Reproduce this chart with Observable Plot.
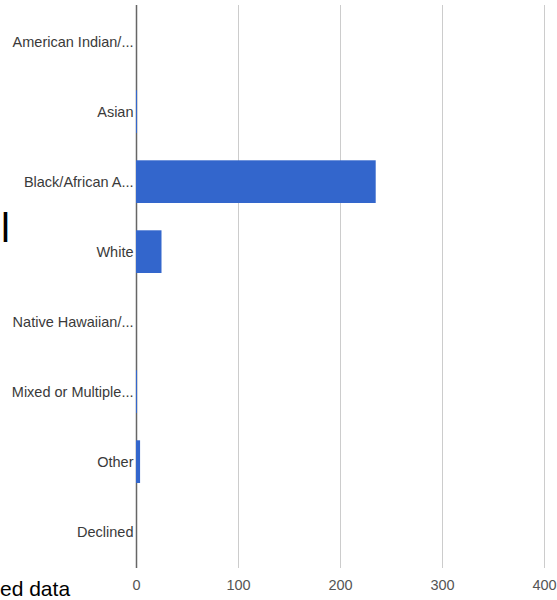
<!DOCTYPE html>
<html>
<head>
<meta charset="utf-8">
<script src="https://cdn.jsdelivr.net/npm/d3@7"></script>
<script src="https://cdn.jsdelivr.net/npm/@observablehq/plot@0.6"></script>
<style>
  html, body { margin: 0; padding: 0; background: #fff; }
  #wrap { position: relative; width: 557px; height: 600px; overflow: hidden; font-family: "Liberation Sans", Arial, sans-serif; }
  .frag { position: absolute; color: #000; font-family: "Liberation Sans", Arial, sans-serif; line-height: 1; white-space: nowrap; }
</style>
</head>
<body>
<div id="wrap"></div>
<script>
const categories = ["American Indian/...", "Asian", "Black/African A...", "White", "Native Hawaiian/...", "Mixed or Multiple...", "Other", "Declined"];
const counts = [0, 1, 235, 25, 0, 1, 4, 0];
const xTicks = [0, 100, 200, 300, 400];

const data = categories.map((c, i) => ({category: c, count: counts[i]}));

const chart = Plot.plot({
  width: 557,
  height: 600,
  marginLeft: 136,
  marginRight: 13,
  marginTop: 5,
  marginBottom: 32,
  style: {fontFamily: "'Liberation Sans', Arial, sans-serif", fontSize: "14.5px", color: "#444", background: "#fff"},
  x: {domain: [0, 400], ticks: xTicks, label: null},
  y: {domain: categories, padding: 0, label: null},
  marks: [
    Plot.ruleX(xTicks.filter(d => d > 0), {stroke: "#ccc", strokeWidth: 1}),
    Plot.ruleX([0], {stroke: "#666", strokeWidth: 1.5}),
    Plot.barX(data, {x: "count", y: "category", fill: "#3366cc", insetTop: 13.3, insetBottom: 14}),
    Plot.axisY({tickSize: 0, tickPadding: 3, label: null, fill: "#3a3a3a"}),
    Plot.axisX(xTicks, {tickSize: 0, tickPadding: 11, label: null, fill: "#555"})
  ]
});

const wrap = document.getElementById("wrap");
wrap.appendChild(chart);

const f1 = document.createElement("div");
f1.className = "frag";
f1.textContent = "l";
f1.style.fontSize = "40px";
f1.style.left = "1px";
f1.style.top = "208px";
wrap.appendChild(f1);

const f2 = document.createElement("div");
f2.className = "frag";
f2.textContent = "ed data";
f2.style.fontSize = "21px";
f2.style.left = "0px";
f2.style.top = "578px";
wrap.appendChild(f2);
</script>
</body>
</html>
